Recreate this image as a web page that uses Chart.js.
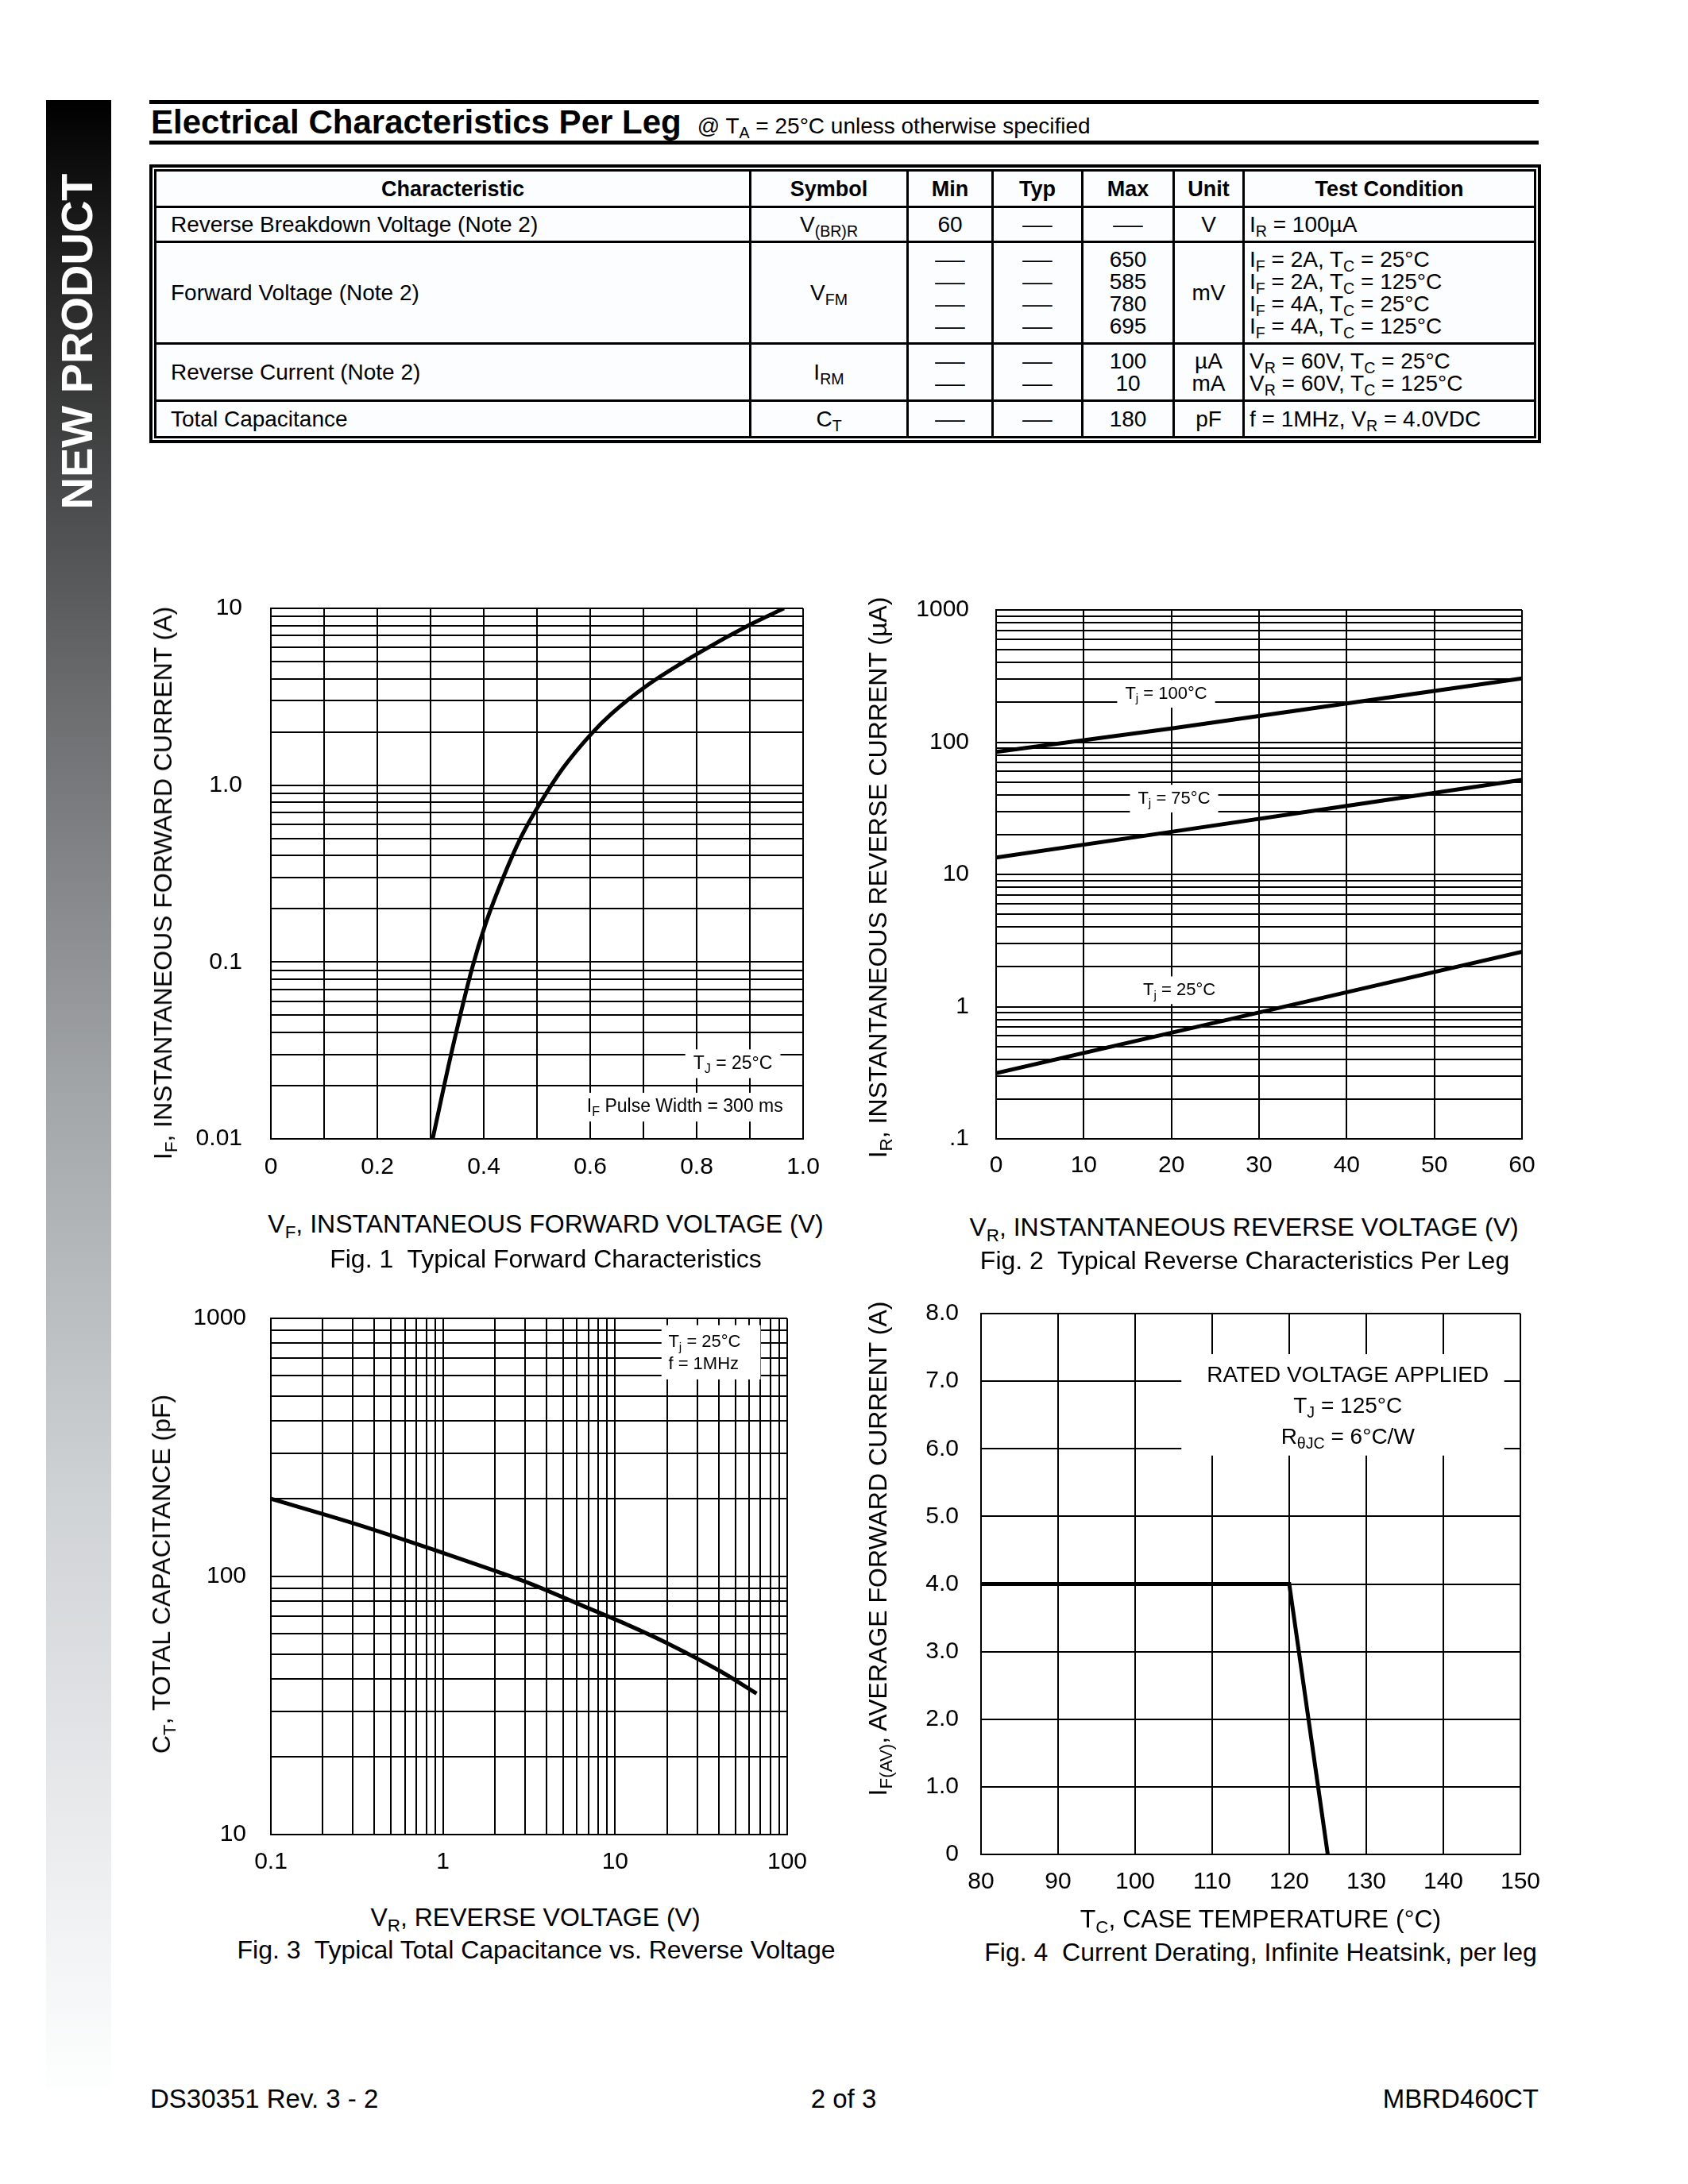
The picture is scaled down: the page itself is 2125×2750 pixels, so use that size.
<!DOCTYPE html>
<html>
<head>
<meta charset="utf-8">
<title>MBRD460CT</title>
<script src="https://cdn.jsdelivr.net/npm/chart.js@4.4.0/dist/chart.umd.min.js"></script>
<style>
  body { margin: 0; background: #fff; }
  #page { position: relative; width: 2125px; height: 2750px; overflow: hidden;
          font-family: "Liberation Sans", Arial, sans-serif; color: #000; }
  .abs { position: absolute; }
  .lbl { position: absolute; transform: translate(-50%, -50%); white-space: nowrap; line-height: 1; font-size: 32px; }
  .vlbl { position: absolute; transform: translate(-50%, -50%) rotate(-90deg); white-space: nowrap; line-height: 1; font-size: 32px; }
  sub { font-size: 70%; vertical-align: -0.3em; line-height: 0; }
  .rule { position: absolute; left: 188px; width: 1749px; height: 5px; background: #000; }
  #sidebar { position: absolute; left: 58px; top: 126px; width: 82px; height: 2504px;
             background: linear-gradient(#000 0%, #2a2a2a 10%, #6a6c6e 30%, #a3a6a8 50%, #cfd2d4 70%, #e6e8ea 85%, #fdfefe 100%); }
  #sidetext { position: absolute; left: 97px; top: 430px; transform: translate(-50%, -50%) rotate(-90deg);
              color: #fff; font-weight: bold; font-size: 56px; line-height: 1; white-space: nowrap; }
  #tblwrap { position: absolute; left: 188px; top: 207px; border: 4px solid #000; padding: 2px; }
  table { border-collapse: collapse; table-layout: fixed; width: 1737px; font-size: 28px; background: #fbfdfe; }
  td, th { border: 3px solid #000; padding: 0 6px; text-align: center; vertical-align: middle; line-height: 28px; white-space: nowrap; }
  th { font-weight: bold; font-size: 27px; }
  td.l { text-align: left; padding-left: 18px; }
  td.tc { text-align: left; padding-left: 6px; }
  .d { display: inline-block; transform: scaleX(1.35); }
  .foot { position: absolute; top: 2626px; font-size: 33px; line-height: 33px; }
</style>
</head>
<body>
<div id="page">
  <div id="sidebar"></div>
  <div id="sidetext">NEW PRODUCT</div>

  <div class="rule" style="top:126px"></div>
  <div class="abs" style="left:190px; top:133px; font-size:42px; line-height:42px; font-weight:bold; white-space:nowrap;">Electrical Characteristics Per Leg<span style="font-size:28px; font-weight:normal; margin-left:20px;">@ T<sub>A</sub> = 25°C unless otherwise specified</span></div>
  <div class="rule" style="top:177px"></div>

  <div id="tblwrap">
    <table>
      <colgroup>
        <col style="width:749px"><col style="width:198px"><col style="width:107px"><col style="width:113px">
        <col style="width:115px"><col style="width:88px"><col style="width:367px">
      </colgroup>
      <tr style="height:46px"><th>Characteristic</th><th>Symbol</th><th>Min</th><th>Typ</th><th>Max</th><th>Unit</th><th>Test Condition</th></tr>
      <tr style="height:44px"><td class="l">Reverse Breakdown Voltage (Note 2)</td><td>V<sub>(BR)R</sub></td><td>60</td><td><span class="d">—</span></td><td><span class="d">—</span></td><td>V</td><td class="tc">I<sub>R</sub> = 100µA</td></tr>
      <tr style="height:128px"><td class="l">Forward Voltage (Note 2)</td><td>V<sub>FM</sub></td>
        <td><span class="d">—</span><br><span class="d">—</span><br><span class="d">—</span><br><span class="d">—</span></td>
        <td><span class="d">—</span><br><span class="d">—</span><br><span class="d">—</span><br><span class="d">—</span></td>
        <td>650<br>585<br>780<br>695</td><td>mV</td>
        <td class="tc">I<sub>F</sub> = 2A, T<sub>C</sub> = 25°C<br>I<sub>F</sub> = 2A, T<sub>C</sub> = 125°C<br>I<sub>F</sub> = 4A, T<sub>C</sub> = 25°C<br>I<sub>F</sub> = 4A, T<sub>C</sub> = 125°C</td></tr>
      <tr style="height:72px"><td class="l">Reverse Current (Note 2)</td><td>I<sub>RM</sub></td>
        <td><span class="d">—</span><br><span class="d">—</span></td><td><span class="d">—</span><br><span class="d">—</span></td>
        <td>100<br>10</td><td>µA<br>mA</td>
        <td class="tc">V<sub>R</sub> = 60V, T<sub>C</sub> = 25°C<br>V<sub>R</sub> = 60V, T<sub>C</sub> = 125°C</td></tr>
      <tr style="height:46px"><td class="l">Total Capacitance</td><td>C<sub>T</sub></td><td><span class="d">—</span></td><td><span class="d">—</span></td><td>180</td><td>pF</td><td class="tc">f = 1MHz, V<sub>R</sub> = 4.0VDC</td></tr>
    </table>
  </div>

  <canvas id="fig1" class="abs"></canvas>
  <canvas id="fig2" class="abs"></canvas>
  <canvas id="fig3" class="abs"></canvas>
  <canvas id="fig4" class="abs"></canvas>

  <div class="vlbl" style="left:205px; top:1112px;">I<sub>F</sub>, INSTANTANEOUS FORWARD CURRENT (A)</div>
  <div class="lbl" style="left:687px; top:1541px;">V<sub>F</sub>, INSTANTANEOUS FORWARD VOLTAGE (V)</div>
  <div class="lbl" style="left:687px; top:1585px;">Fig. 1&nbsp; Typical Forward Characteristics</div>

  <div class="vlbl" style="left:1105px; top:1105px;">I<sub>R</sub>, INSTANTANEOUS REVERSE CURRENT (µA)</div>
  <div class="lbl" style="left:1566px; top:1545px;">V<sub>R</sub>, INSTANTANEOUS REVERSE VOLTAGE (V)</div>
  <div class="lbl" style="left:1567px; top:1587px;">Fig. 2&nbsp; Typical Reverse Characteristics Per Leg</div>

  <div class="vlbl" style="left:203px; top:1982px;">C<sub>T</sub>, TOTAL CAPACITANCE (pF)</div>
  <div class="lbl" style="left:674px; top:2414px;">V<sub>R</sub>, REVERSE VOLTAGE (V)</div>
  <div class="lbl" style="left:675px; top:2455px;">Fig. 3&nbsp; Typical Total Capacitance vs. Reverse Voltage</div>

  <div class="vlbl" style="left:1105px; top:1950px;">I<sub>F(AV)</sub>, AVERAGE FORWARD CURRENT (A)</div>
  <div class="lbl" style="left:1587px; top:2416px;">T<sub>C</sub>, CASE TEMPERATURE (°C)</div>
  <div class="lbl" style="left:1587px; top:2458px;">Fig. 4&nbsp; Current Derating, Infinite Heatsink, per leg</div>

  <div class="foot" style="left:189px;">DS30351 Rev. 3 - 2</div>
  <div class="foot" style="left:1062px; transform:translateX(-50%);">2 of 3</div>
  <div class="foot" style="right:188px;">MBRD460CT</div>
</div>

<script>
const FONT = '"Liberation Sans", Arial, sans-serif';

// Fig. 1 - typical forward characteristics, TJ = 25°C
const fwdVoltage = [0.304, 0.339, 0.378, 0.403, 0.438, 0.470, 0.503, 0.549, 0.602, 0.641, 0.706, 0.806, 0.901, 0.964];
const fwdCurrent = [0.01, 0.0304, 0.092, 0.163, 0.308, 0.508, 0.765, 1.25, 1.95, 2.55, 3.65, 5.64, 8.11, 10];
const fwdXTicks = [0, 0.2, 0.4, 0.6, 0.8, 1.0];
const fwdXLabels = ['0', '0.2', '0.4', '0.6', '0.8', '1.0'];
const fwdYTicks = [0.01, 0.1, 1, 10];
const fwdYLabels = ['0.01', '0.1', '1.0', '10'];

// Fig. 2 - typical reverse characteristics per leg
const revVoltage = [0, 20, 40, 60];
const revCurrent100 = [84.5, 127, 196, 303];
const revCurrent75 = [13.4, 21, 33, 51.9];
const revCurrent25 = [0.314, 0.635, 1.285, 2.6];
const revXTicks = [0, 10, 20, 30, 40, 50, 60];
const revXLabels = ['0', '10', '20', '30', '40', '50', '60'];
const revYTicks = [0.1, 1, 10, 100, 1000];
const revYLabels = ['.1', '1', '10', '100', '1000'];

// Fig. 3 - total capacitance vs reverse voltage
const capVoltage = [0.1, 0.318, 0.927, 2.05, 3.24, 6.39, 12.1, 20.8, 41.2, 66.4];
const capValue = [200, 159, 125.6, 104.6, 93.6, 77.3, 64.5, 54.5, 42.8, 35.2];
const capXTicks = [0.1, 1, 10, 100];
const capXLabels = ['0.1', '1', '10', '100'];
const capYTicks = [10, 100, 1000];
const capYLabels = ['10', '100', '1000'];

// Fig. 4 - current derating
const derTemp = [80, 120, 125];
const derCurrent = [4, 4, 0];
const derXTicks = [80, 90, 100, 110, 120, 130, 140, 150];
const derXLabels = ['80', '90', '100', '110', '120', '130', '140', '150'];
const derYTicks = [0, 1, 2, 3, 4, 5, 6, 7, 8];
const derYLabels = ['0', '1.0', '2.0', '3.0', '4.0', '5.0', '6.0', '7.0', '8.0'];

// grid line positions
function logGrid(lo, hi) {
  const out = [];
  for (let d = lo; d < hi * 0.999; d *= 10)
    for (let m = 1; m < 10; m++) out.push(+(m * d).toPrecision(6));
  out.push(hi);
  return out;
}
function linGrid(lo, hi, step) {
  const out = [];
  for (let v = lo; v <= hi + step / 2; v += step) out.push(+v.toPrecision(6));
  return out;
}

// text with subscripts, "T_{J} = 25°C"
function parseRich(s) {
  const parts = [];
  const re = /_\{([^}]*)\}/g;
  let last = 0, m;
  while ((m = re.exec(s))) {
    if (m.index > last) parts.push({ t: s.slice(last, m.index) });
    parts.push({ t: m[1], sub: true });
    last = re.lastIndex;
  }
  if (last < s.length) parts.push({ t: s.slice(last) });
  return parts;
}
function richWidth(ctx, parts, size) {
  let w = 0;
  parts.forEach(p => { ctx.font = (p.sub ? size * 0.7 : size) + 'px ' + FONT; w += ctx.measureText(p.t).width; });
  return w;
}
function drawRich(ctx, parts, x, y, size) {
  ctx.textBaseline = 'middle';
  ctx.textAlign = 'left';
  parts.forEach(p => {
    ctx.font = (p.sub ? size * 0.7 : size) + 'px ' + FONT;
    ctx.fillText(p.t, x, y + (p.sub ? size * 0.3 : 0));
    x += ctx.measureText(p.t).width;
  });
}

function notesPlugin(notes) {
  return {
    id: 'notes',
    beforeDatasetsDraw(chart) {
      const { ctx, scales: { x, y } } = chart;
      notes.forEach(n => {
        ctx.save();
        const lines = n.lines.map(parseRich);
        const lh = n.lineH || n.size * 1.4;
        const widths = lines.map(l => richWidth(ctx, l, n.size));
        const cx = x.getPixelForValue(n.x), cy = y.getPixelForValue(n.y);
        let bx0, bx1, by0, by1;
        if (n.box) {
          bx0 = x.getPixelForValue(n.box[0]); bx1 = x.getPixelForValue(n.box[1]);
          by0 = y.getPixelForValue(n.box[2]); by1 = y.getPixelForValue(n.box[3]);
        } else {
          const w = Math.max(...widths);
          bx0 = (n.align === 'left' ? cx : cx - w / 2) - 10;
          bx1 = bx0 + w + 20;
          by0 = cy - lh / 2 - 2;
          by1 = by0 + lh * lines.length + 4;
        }
        ctx.fillStyle = '#fff';
        ctx.fillRect(bx0, by0, bx1 - bx0, by1 - by0);
        ctx.fillStyle = '#000';
        lines.forEach((l, i) => {
          const lx = n.align === 'left' ? cx : cx - widths[i] / 2;
          drawRich(ctx, l, lx, cy + i * lh, n.size);
        });
        ctx.restore();
      });
    }
  };
}

function axis(type, min, max, grid, tickVals, tickText, pad, fit) {
  return {
    type, min, max,
    afterBuildTicks: s => { s.ticks = grid.map(v => ({ value: v })); },
    afterFit: fit,
    grid: { color: '#000', lineWidth: 2, drawTicks: false },
    border: { display: true, color: '#000', width: 2 },
    ticks: {
      autoSkip: false, maxRotation: 0, minRotation: 0, padding: pad, color: '#000',
      font: { family: FONT, size: 30 },
      callback: v => {
        const i = tickVals.findIndex(t => Math.abs(t - v) <= 1e-6 * Math.max(Math.abs(t), 1e-6));
        return i < 0 ? '' : tickText[i];
      }
    }
  };
}

function line(xs, ys, smooth) {
  return {
    data: xs.map((v, i) => ({ x: v, y: ys[i] })),
    borderColor: '#000', borderWidth: 5, pointRadius: 0, fill: false,
    cubicInterpolationMode: smooth ? 'monotone' : 'default', tension: 0
  };
}

function makeChart(id, box, cfg) {
  // generous padding so tick label overhang never shrinks the plot area
  const padT = 70, padR = 80, padL = 10, padB = 10;
  const canvas = document.getElementById(id);
  canvas.width = box.w + cfg.yW + padL + padR;
  canvas.height = box.h + cfg.xH + padT + padB;
  canvas.style.left = (box.x - cfg.yW - padL) + 'px';
  canvas.style.top = (box.y - padT) + 'px';
  return new Chart(canvas, {
    type: 'line',
    data: { datasets: cfg.datasets },
    options: {
      responsive: false, animation: false, devicePixelRatio: 1, events: [],
      layout: { padding: { top: padT, right: padR, bottom: padB, left: padL } },
      plugins: { legend: { display: false }, tooltip: { enabled: false } },
      scales: {
        x: axis(cfg.xType, cfg.xMin, cfg.xMax, cfg.xGrid, cfg.xTicks, cfg.xLabels, cfg.xPad, s => { s.height = cfg.xH; }),
        y: axis(cfg.yType, cfg.yMin, cfg.yMax, cfg.yGrid, cfg.yTicks, cfg.yLabels, cfg.yPad, s => { s.width = cfg.yW; })
      }
    },
    plugins: [notesPlugin(cfg.notes || [])]
  });
}

makeChart('fig1', { x: 341, y: 766, w: 670, h: 668 }, {
  yW: 150, xH: 70, xPad: 18, yPad: 36,
  xType: 'linear', xMin: 0, xMax: 1, xGrid: linGrid(0, 1, 0.1), xTicks: fwdXTicks, xLabels: fwdXLabels,
  yType: 'logarithmic', yMin: 0.01, yMax: 10, yGrid: logGrid(0.01, 10), yTicks: fwdYTicks, yLabels: fwdYLabels,
  datasets: [line(fwdVoltage, fwdCurrent, true)],
  notes: [
    { x: 0.868, y: 0.0266, lines: ['T_{J} = 25°C'], size: 23 },
    { x: 0.778, y: 0.0151, lines: ['I_{F} Pulse Width = 300 ms'], size: 23 }
  ]
});

makeChart('fig2', { x: 1254, y: 768, w: 662, h: 666 }, {
  yW: 150, xH: 70, xPad: 16, yPad: 34,
  xType: 'linear', xMin: 0, xMax: 60, xGrid: linGrid(0, 60, 10), xTicks: revXTicks, xLabels: revXLabels,
  yType: 'logarithmic', yMin: 0.1, yMax: 1000, yGrid: logGrid(0.1, 1000), yTicks: revYTicks, yLabels: revYLabels,
  datasets: [line(revVoltage, revCurrent100), line(revVoltage, revCurrent75), line(revVoltage, revCurrent25)],
  notes: [
    { x: 19.4, y: 232, lines: ['T_{j} = 100°C'], size: 22 },
    { x: 20.3, y: 37.4, lines: ['T_{j} = 75°C'], size: 22 },
    { x: 20.9, y: 1.33, lines: ['T_{j} = 25°C'], size: 22 }
  ]
});

makeChart('fig3', { x: 341, y: 1660, w: 650, h: 650 }, {
  yW: 150, xH: 70, xPad: 17, yPad: 31,
  xType: 'logarithmic', xMin: 0.1, xMax: 100, xGrid: logGrid(0.1, 100), xTicks: capXTicks, xLabels: capXLabels,
  yType: 'logarithmic', yMin: 10, yMax: 1000, yGrid: logGrid(10, 1000), yTicks: capYTicks, yLabels: capYLabels,
  datasets: [line(capVoltage, capValue, true)],
  notes: [
    { x: 20.4, y: 809, lines: ['T_{j} = 25°C', 'f = 1MHz'], size: 22, lineH: 28, align: 'left', box: [18.6, 70, 941, 580] }
  ]
});

makeChart('fig4', { x: 1235, y: 1654, w: 679, h: 681 }, {
  yW: 150, xH: 70, xPad: 17, yPad: 28,
  xType: 'linear', xMin: 80, xMax: 150, xGrid: derXTicks, xTicks: derXTicks, xLabels: derXLabels,
  yType: 'linear', yMin: 0, yMax: 8, yGrid: derYTicks, yTicks: derYTicks, yLabels: derYLabels,
  datasets: [line(derTemp, derCurrent)],
  notes: [
    { x: 127.6, y: 7.08, lines: ['RATED VOLTAGE APPLIED', 'T_{J} = 125°C', 'R_{θJC} = 6°C/W'], size: 28, lineH: 39,
      box: [106, 147.9, 7.4, 5.9] }
  ]
});
</script>
</body>
</html>
